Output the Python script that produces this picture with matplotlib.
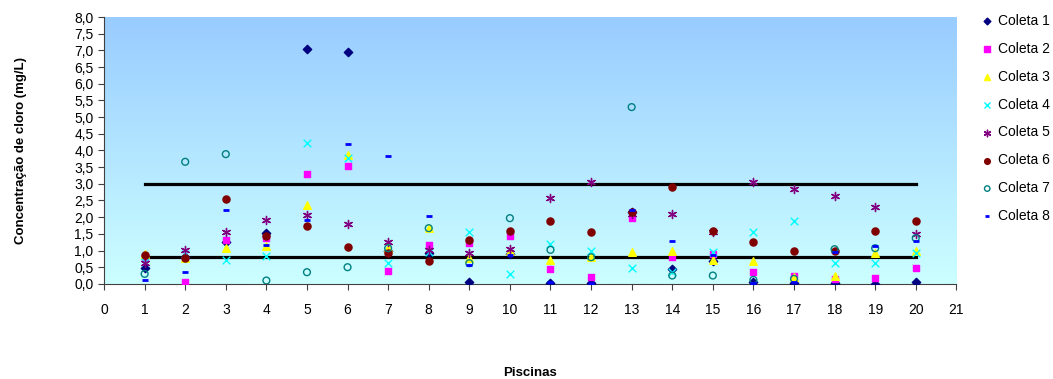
import numpy as np
import matplotlib.pyplot as plt
from matplotlib.ticker import FuncFormatter, MultipleLocator

plt.rcParams['font.family'] = ['Liberation Sans', 'DejaVu Sans']

piscinas = np.arange(1, 21)

coleta1 = [0.48, 0.80, 1.25, 1.52, 7.05, 6.95, 1.00, 0.94, 0.07, 0.90,
           0.04, 0.04, 2.15, 0.46, 0.70, 0.05, 0.03, 0.03, 0.00, 0.05]
coleta2 = [0.80, 0.05, 1.32, 1.37, 3.30, 3.53, 0.40, 1.17, 1.24, 1.44,
           0.45, 0.22, 1.97, 0.80, 0.90, 0.37, 0.25, 0.15, 0.17, 0.47]
coleta3 = [0.90, 0.78, 1.07, 1.14, 2.37, 3.86, 1.07, 1.67, 0.77, 0.98,
           0.72, 0.82, 0.97, 1.00, 0.72, 0.69, 0.20, 0.24, 0.92, 0.98]
coleta4 = [0.65, 0.90, 0.72, 0.84, 4.21, 3.76, 0.62, 0.95, 1.57, 0.29,
           1.20, 1.00, 0.47, 0.35, 0.97, 1.55, 1.89, 0.64, 0.62, 0.92]
coleta5 = [0.62, 1.02, 1.57, 1.92, 2.06, 1.79, 1.27, 1.02, 0.94, 1.05,
           2.57, 3.06, 2.10, 2.10, 1.55, 3.06, 2.84, 2.64, 2.30, 1.50]
coleta6 = [0.88, 0.79, 2.54, 1.44, 1.75, 1.10, 0.94, 0.69, 1.32, 1.60,
           1.90, 1.57, 2.14, 2.89, 1.59, 1.27, 1.00, 1.00, 1.60, 1.90]
coleta7 = [0.30, 3.66, 3.89, 0.10, 0.35, 0.50, 1.07, 1.67, 0.62, 1.97,
           1.02, 0.80, 5.30, 0.25, 0.25, 0.12, 0.15, 1.04, 1.07, 1.37]
coleta8 = [0.12, 0.35, 2.20, 1.17, 1.92, 4.18, 3.83, 2.04, 0.57, 0.88,
           0.05, 0.03, 2.22, 1.30, 0.88, 0.03, 0.05, 0.97, 1.15, 1.30]

# limites de referencia
limite_max = 3.0
limite_min = 0.8

fig = plt.figure(figsize=(10.53, 3.79), dpi=100)
ax = fig.add_axes([0.0988, 0.251, 0.8094, 0.704])

# fundo em degrade
grad = np.linspace(0, 1, 256).reshape(-1, 1)
top = np.array([153, 204, 255]) / 255
bot = np.array([204, 255, 255]) / 255
img = top[None, None, :] * (1 - grad[:, :, None]) + bot[None, None, :] * grad[:, :, None]
ax.imshow(img, extent=[0, 21, 0, 8], aspect='auto', zorder=0)

ax.plot([1, 20], [limite_max, limite_max], color='black', lw=2.3, zorder=2)
ax.plot([1, 20], [limite_min, limite_min], color='black', lw=2.3, zorder=2)

ax.scatter(piscinas, coleta1, marker='D', s=18, color='#000080', label='Coleta 1', zorder=3)
ax.scatter(piscinas, coleta2, marker='s', s=24, color='#FF00FF', label='Coleta 2', zorder=3)
ax.scatter(piscinas, coleta3, marker='^', s=30, color='#FFFF00', label='Coleta 3', zorder=3)
ax.scatter(piscinas, coleta4, marker='x', s=30, color='#00FFFF', linewidths=1, label='Coleta 4', zorder=3)
ax.scatter(piscinas, coleta5, marker=(6, 2, 0), s=34, color='#800080', linewidths=1, label='Coleta 5', zorder=3)
ax.scatter(piscinas, coleta6, marker='o', s=26, color='#800000', label='Coleta 6', zorder=3)
ax.scatter(piscinas, coleta7, marker='o', s=24, facecolors='none', edgecolors='#008080', linewidths=1, label='Coleta 7', zorder=3)
ax.scatter(piscinas, coleta8, marker='_', s=20, color='#0000FF', linewidths=2, label='Coleta 8', zorder=3)

ax.set_xlim(0, 21)
ax.set_ylim(0, 8)
ax.xaxis.set_major_locator(MultipleLocator(1))
ax.yaxis.set_major_locator(MultipleLocator(0.5))
ax.yaxis.set_major_formatter(FuncFormatter(lambda v, p: ('%.1f' % v).replace('.', ',')))

for s in ['top', 'right']:
    ax.spines[s].set_visible(False)
for s in ['left', 'bottom']:
    ax.spines[s].set_color('#404040')
ax.tick_params(direction='out', length=4, color='#404040', labelsize=10)
ax.tick_params(axis='x', pad=10)

ax.set_ylabel('Concentração de cloro (mg/L)', fontsize=9.5, fontweight='bold', labelpad=34)
ax.set_xlabel('Piscinas', fontsize=9.5, fontweight='bold', labelpad=36)

fig.legend(loc='upper left', bbox_to_anchor=(0.925, 0.978), frameon=False,
           fontsize=10, labelspacing=1.0, handletextpad=0.2, markerscale=0.8,
           handlelength=1.1, borderaxespad=0)

fig.savefig('out.png', dpi=100)
